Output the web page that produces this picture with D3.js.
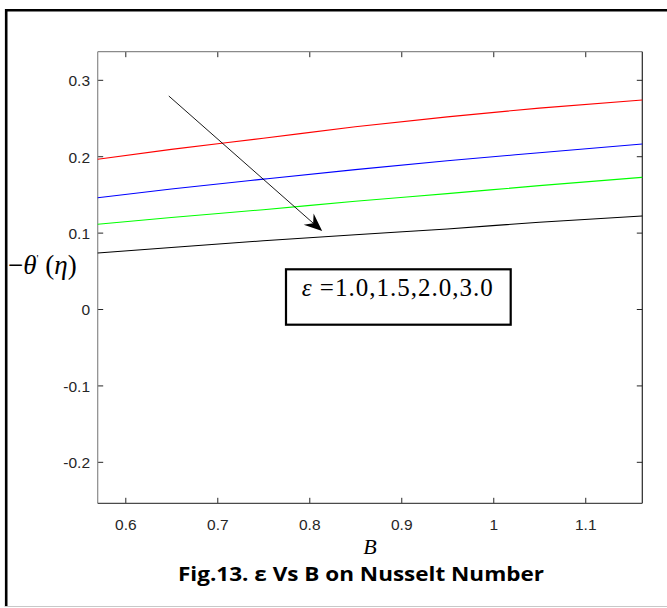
<!DOCTYPE html>
<html>
<head>
<meta charset="utf-8">
<script src="https://cdn.jsdelivr.net/npm/d3@7"></script>
<style>
  html, body { margin: 0; padding: 0; background: #fff; }
  svg { display: block; }
</style>
</head>
<body>
<svg id="chart" width="667" height="608"></svg>
<script>
// ---- data ----
const B = [0.57, 0.65, 0.75, 0.85, 0.95, 1.05, 1.162];
const epsLabels = ["1.0", "1.5", "2.0", "3.0"];
const seriesColors = ["#ff0000", "#0000ff", "#00ff00", "#000000"];
const eps10 = [0.196, 0.209, 0.2235, 0.2385, 0.2515, 0.263, 0.2736];
const eps15 = [0.1457, 0.157, 0.170, 0.1825, 0.194, 0.2045, 0.216];
const eps20 = [0.1109, 0.1198, 0.130, 0.141, 0.151, 0.1615, 0.1724];
const eps30 = [0.0733, 0.0805, 0.0893, 0.0973, 0.1048, 0.1135, 0.1217];
const series = [eps10, eps15, eps20, eps30];
const xTicks = [0.6, 0.7, 0.8, 0.9, 1.0, 1.1];
const xTickLabels = ["0.6", "0.7", "0.8", "0.9", "1", "1.1"];
const yTicks = [-0.2, -0.1, 0, 0.1, 0.2, 0.3];
const yTickLabels = ["-0.2", "-0.1", "0", "0.1", "0.2", "0.3"];
const xDomain = [0.57, 1.162];
const yDomain = [-0.2543, 0.3368];
const arrowFrom = [0.6473, 0.2788];
const arrowTo = [0.814, 0.102];

// ---- layout ----
const svg = d3.select("#chart");
const L = 97.7, R = 642.3, T = 51.7, Bm = 503.3;
const x = d3.scaleLinear().domain(xDomain).range([L, R]);
const y = d3.scaleLinear().domain(yDomain).range([Bm, T]);

// outer frame
svg.append("line").attr("x1", 6.2).attr("x2", 6.2).attr("y1", 9).attr("y2", 607)
  .attr("stroke", "#000").attr("stroke-width", 2.6);
svg.append("line").attr("x1", 5).attr("x2", 667).attr("y1", 10.3).attr("y2", 10.3)
  .attr("stroke", "#000").attr("stroke-width", 2.6);
svg.append("line").attr("x1", 5).attr("x2", 667).attr("y1", 606.5).attr("y2", 606.5)
  .attr("stroke", "#c8c8c8").attr("stroke-width", 1);

// axes
const tickFont = "'Liberation Sans', Arial, sans-serif";
const xAxisB = d3.axisBottom(x).tickValues(xTicks).tickSizeInner(-5.5).tickSizeOuter(0)
  .tickFormat((d, i) => xTickLabels[i]);
const gxb = svg.append("g").attr("transform", `translate(0,${Bm})`).call(xAxisB);
gxb.select(".domain").remove();
gxb.selectAll("line").attr("stroke", "#262626");
gxb.selectAll("text").attr("y", 21).attr("dy", "0.35em")
  .attr("font-family", tickFont).attr("font-size", 15.5).attr("fill", "#262626");

const xAxisT = d3.axisTop(x).tickValues(xTicks).tickSizeInner(-5.5).tickSizeOuter(0).tickFormat("");
const gxt = svg.append("g").attr("transform", `translate(0,${T})`).call(xAxisT);
gxt.select(".domain").remove();
gxt.selectAll("line").attr("stroke", "#262626");

const yAxisL = d3.axisLeft(y).tickValues(yTicks).tickSizeInner(-5.5).tickSizeOuter(0)
  .tickFormat((d, i) => yTickLabels[i]);
const gyl = svg.append("g").attr("transform", `translate(${L},0)`).call(yAxisL);
gyl.select(".domain").remove();
gyl.selectAll("line").attr("stroke", "#262626");
gyl.selectAll("text").attr("x", -7.7).attr("dy", "0.38em")
  .attr("font-family", tickFont).attr("font-size", 15.5).attr("fill", "#262626");

const yAxisR = d3.axisRight(y).tickValues(yTicks).tickSizeInner(-5.5).tickSizeOuter(0).tickFormat("");
const gyr = svg.append("g").attr("transform", `translate(${R},0)`).call(yAxisR);
gyr.select(".domain").remove();
gyr.selectAll("line").attr("stroke", "#262626");

// box edges
svg.append("line").attr("x1", L).attr("x2", R).attr("y1", T).attr("y2", T)
  .attr("stroke", "#8a8a8a").attr("stroke-width", 1.2);
svg.append("line").attr("x1", L).attr("x2", L).attr("y1", T).attr("y2", Bm)
  .attr("stroke", "#8a8a8a").attr("stroke-width", 1.2);
svg.append("line").attr("x1", R).attr("x2", R).attr("y1", T).attr("y2", Bm)
  .attr("stroke", "#262626").attr("stroke-width", 1.2);
svg.append("line").attr("x1", L).attr("x2", R).attr("y1", Bm).attr("y2", Bm)
  .attr("stroke", "#4a4a4a").attr("stroke-width", 1.2);

// series lines
const line = d3.line().x((d, i) => x(B[i])).y(d => y(d)).curve(d3.curveMonotoneX);
series.forEach((s, k) => {
  svg.append("path").datum(s).attr("d", line)
    .attr("fill", "none").attr("stroke", seriesColors[k]).attr("stroke-width", 1.1);
});

// arrow
const ax1 = x(arrowFrom[0]), ay1 = y(arrowFrom[1]);
const ax2 = x(arrowTo[0]), ay2 = y(arrowTo[1]);
const ang = Math.atan2(ay2 - ay1, ax2 - ax1);
const headLen = 18, headW = 7.5, back = 12;
svg.append("line").attr("x1", ax1).attr("y1", ay1)
  .attr("x2", ax2 - Math.cos(ang) * back).attr("y2", ay2 - Math.sin(ang) * back)
  .attr("stroke", "#000").attr("stroke-width", 0.9);
const px = -Math.sin(ang), py = Math.cos(ang);
const bx = ax2 - Math.cos(ang) * headLen, by = ay2 - Math.sin(ang) * headLen;
const ix = ax2 - Math.cos(ang) * back, iy = ay2 - Math.sin(ang) * back;
svg.append("path")
  .attr("d", `M${ax2},${ay2} L${bx + px * headW},${by + py * headW} L${ix},${iy} L${bx - px * headW},${by - py * headW} Z`)
  .attr("fill", "#000");

// legend box
svg.append("rect").attr("x", 286).attr("y", 269.3).attr("width", 224.7).attr("height", 55.4)
  .attr("fill", "#fff").attr("stroke", "#000").attr("stroke-width", 2.2);
const lt = svg.append("text").attr("x", 301.7).attr("y", 296)
  .attr("font-family", "'Liberation Serif', 'Times New Roman', serif").attr("font-size", 25)
  .attr("textLength", 191).attr("lengthAdjust", "spacing")
  .attr("fill", "#000");
lt.append("tspan").attr("font-style", "italic").text("ε");
lt.append("tspan").text(" =" + epsLabels.join(","));

// y label
const yl = svg.append("text").attr("x", 8).attr("y", 274)
  .attr("font-family", "'Liberation Serif', 'Times New Roman', serif").attr("font-size", 27)
  .attr("fill", "#000");
yl.append("tspan").text("−");
yl.append("tspan").attr("font-style", "italic").text("θ");
yl.append("tspan").attr("font-size", 11).attr("dy", -12).text("'");
yl.append("tspan").attr("dy", 12).text(" (");
yl.append("tspan").attr("font-style", "italic").text("η");
yl.append("tspan").text(")");

// x label
svg.append("text").attr("x", 370).attr("y", 554).attr("text-anchor", "middle")
  .attr("font-family", "'Liberation Serif', 'Times New Roman', serif").attr("font-style", "italic")
  .attr("font-size", 22).attr("fill", "#000").text("B");

// title
svg.append("text").attr("x", 178).attr("y", 581)
  .attr("font-family", "'Open Sans', sans-serif").attr("font-weight", "bold")
  .attr("font-size", 20).attr("textLength", 366).attr("lengthAdjust", "spacingAndGlyphs")
  .attr("fill", "#000").text("Fig.13. ε Vs B on Nusselt Number");
</script>
</body>
</html>
